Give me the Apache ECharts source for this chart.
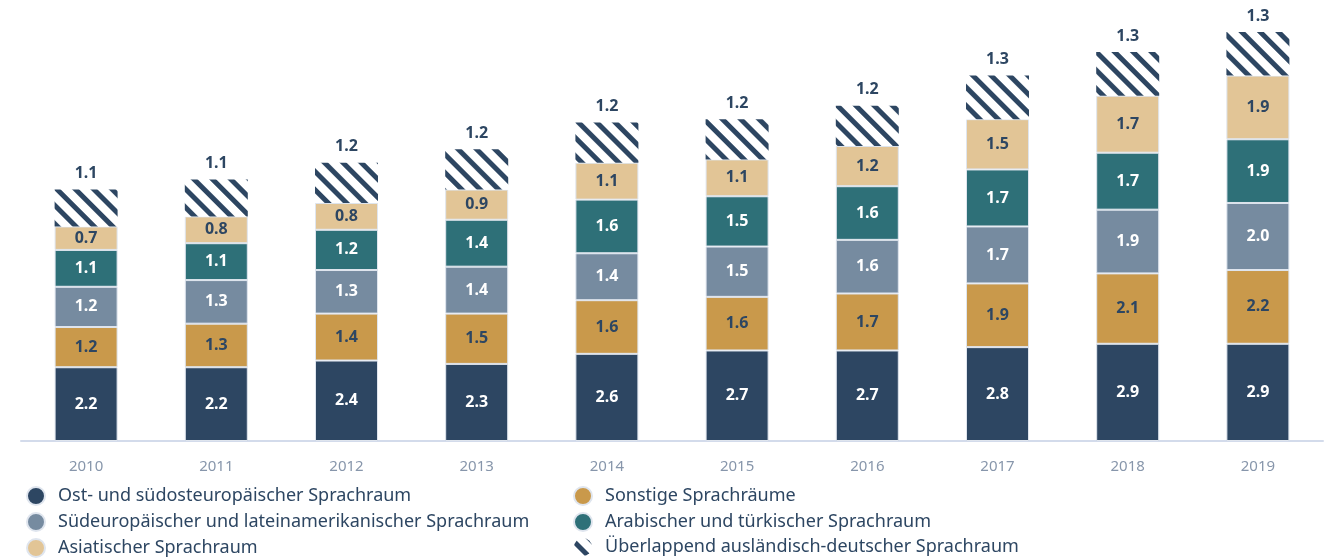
<!DOCTYPE html>
<html>
<head>
<meta charset="utf-8">
<script src="https://cdn.jsdelivr.net/npm/echarts@6/dist/echarts.min.js"></script>
<style>
  html, body { margin: 0; padding: 0; background: #fff; }
  #chart { width: 1338px; height: 560px; }
</style>
</head>
<body>
<div id="chart"></div>
<script>
// Jahre
const years = ['2010', '2011', '2012', '2013', '2014', '2015', '2016', '2017', '2018', '2019'];
// Werte je Sprachraum (Mio.)
const ostSued = [2.2, 2.2, 2.4, 2.3, 2.6, 2.7, 2.7, 2.8, 2.9, 2.9];
const sonstige = [1.2, 1.3, 1.4, 1.5, 1.6, 1.6, 1.7, 1.9, 2.1, 2.2];
const suedLatein = [1.2, 1.3, 1.3, 1.4, 1.4, 1.5, 1.6, 1.7, 1.9, 2.0];
const arabTuerk = [1.1, 1.1, 1.2, 1.4, 1.6, 1.5, 1.6, 1.7, 1.7, 1.9];
const asiatisch = [0.7, 0.8, 0.8, 0.9, 1.1, 1.1, 1.2, 1.5, 1.7, 1.9];
const ueberlappend = [1.1, 1.1, 1.2, 1.2, 1.2, 1.2, 1.2, 1.3, 1.3, 1.3];

const navy = '#2d4662';
const font = '"Noto Sans", "Open Sans", sans-serif';

// Hilfsfunktion für ein Balkensegment
function segment(name, data, color, textColor) {
  return {
    name: name,
    type: 'bar',
    stack: 'total',
    barWidth: 63,
    data: data,
    itemStyle: { color: color, borderColor: '#dfe5ee', borderWidth: 1 },
    label: {
      show: true,
      position: 'inside',
      color: textColor,
      fontFamily: font,
      fontWeight: 'bold',
      fontSize: 16,
      formatter: p => p.value.toFixed(1)
    }
  };
}

// gemeinsame Legendeneinstellungen
const legendBase = {
  orient: 'vertical',
  top: 486,
  height: 100,
  padding: 0,
  icon: 'circle',
  itemWidth: 18,
  itemHeight: 18,
  itemGap: 6,
  textStyle: { color: navy, fontSize: 18, lineHeight: 18, fontFamily: font, padding: [0, 0, 0, 8] }
};

let chart = echarts.init(document.getElementById('chart'));
chart.setOption({
  animation: false,
  grid: { left: 21, right: 15, top: 32, bottom: 119 },
  legend: [
    Object.assign({}, legendBase, {
      left: 26,
      data: ['Ost- und südosteuropäischer Sprachraum', 'Südeuropäischer und lateinamerikanischer Sprachraum', 'Asiatischer Sprachraum']
    }),
    Object.assign({}, legendBase, {
      left: 573,
      data: ['Sonstige Sprachräume', 'Arabischer und türkischer Sprachraum', 'Überlappend ausländisch-deutscher Sprachraum']
    })
  ],
  xAxis: {
    type: 'category',
    data: years,
    axisLine: { lineStyle: { color: '#d3dbeb', width: 2 } },
    axisTick: { alignWithLabel: true, length: 8, lineStyle: { color: '#d3dbeb' } },
    axisLabel: { color: '#8796ab', fontSize: 15, fontFamily: font, margin: 18 }
  },
  yAxis: {
    type: 'value',
    min: 0,
    max: 12.2,
    show: false
  },
  series: [
    segment('Ost- und südosteuropäischer Sprachraum', ostSued, navy, '#ffffff'),
    segment('Sonstige Sprachräume', sonstige, '#c9994b', navy),
    segment('Südeuropäischer und lateinamerikanischer Sprachraum', suedLatein, '#768ba0', '#ffffff'),
    segment('Arabischer und türkischer Sprachraum', arabTuerk, '#2e7078', '#ffffff'),
    segment('Asiatischer Sprachraum', asiatisch, '#e2c596', navy),
    {
      name: 'Überlappend ausländisch-deutscher Sprachraum',
      type: 'bar',
      stack: 'total',
      barWidth: 63,
      data: ueberlappend,
      itemStyle: {
        color: '#ffffff',
        decal: {
          symbol: 'rect',
          symbolSize: 1,
          color: navy,
          backgroundColor: '#ffffff',
          dashArrayX: [1, 0],
          dashArrayY: [5, 8],
          rotation: Math.PI / 4
        }
      },
      label: {
        show: true,
        position: 'top',
        distance: 8,
        color: navy,
        fontFamily: font,
        fontWeight: 'bold',
        fontSize: 16,
        formatter: p => p.value.toFixed(1)
      }
    }
  ]
});
</script>
</body>
</html>
